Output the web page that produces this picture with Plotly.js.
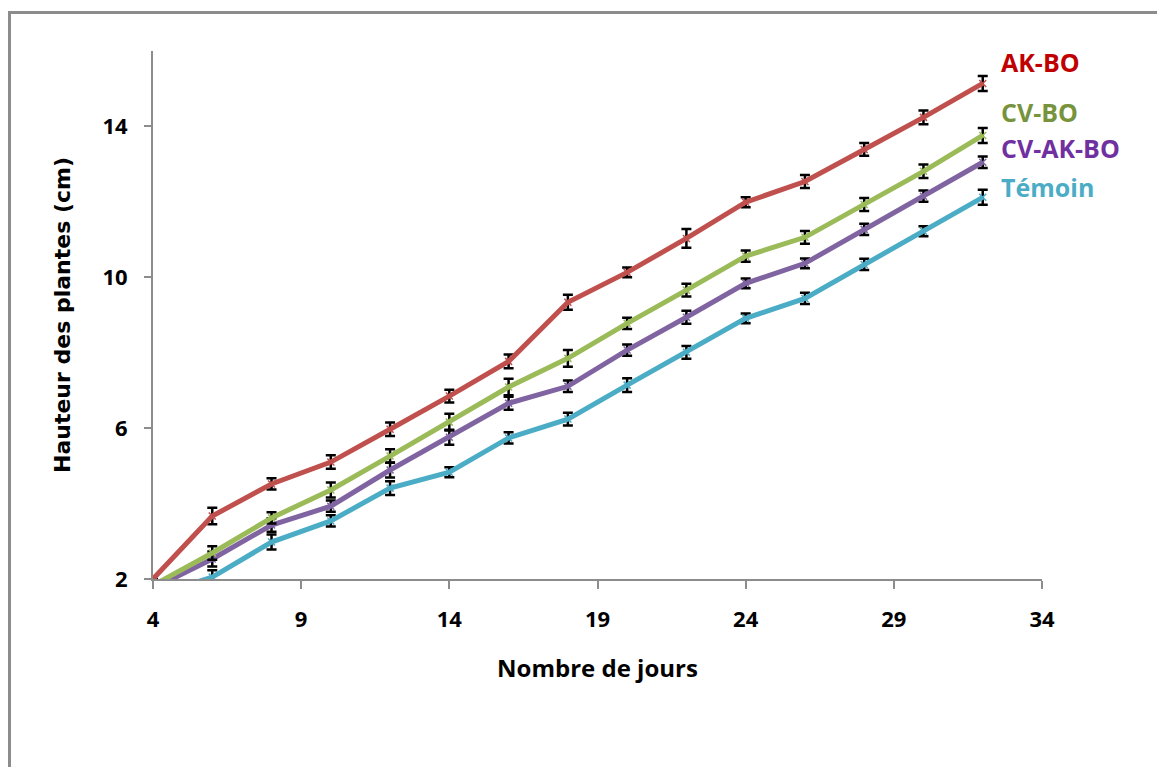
<!DOCTYPE html>
<html>
<head>
<meta charset="utf-8">
<script src="https://cdn.plot.ly/plotly-3.0.1.min.js"></script>
<style>
  html, body { margin: 0; padding: 0; background: #fff; }
  #chart { width: 1157px; height: 767px; }
  #frame { position: absolute; left: 8px; top: 11px; width: 1200px; height: 800px;
           border-left: 3px solid #8c8c8c; border-top: 3px solid #8c8c8c; pointer-events: none; }
</style>
</head>
<body>
<div id="chart"></div>
<div id="frame"></div>
<script>
const days = [4, 6, 8, 10, 12, 14, 16, 18, 20, 22, 24, 26, 28, 30, 32];

const akBO    = [2.00, 3.67, 4.52, 5.10, 5.97, 6.85, 7.77, 9.34, 10.13, 11.03, 11.99, 12.54, 13.39, 14.24, 15.14];
const cvBO    = [1.83, 2.69, 3.62, 4.36, 5.26, 6.16, 7.09, 7.85, 8.78, 9.66, 10.56, 11.06, 11.93, 12.81, 13.76];
const cvAkBO  = [1.75, 2.53, 3.43, 3.93, 4.89, 5.76, 6.66, 7.11, 8.07, 8.94, 9.84, 10.37, 11.27, 12.15, 13.05];
const temoin  = [1.55, 2.05, 2.98, 3.54, 4.41, 4.83, 5.74, 6.24, 7.14, 8.01, 8.91, 9.44, 10.34, 11.22, 12.12];

const errAkBO   = [0, 0.22, 0.15, 0.18, 0.18, 0.17, 0.18, 0.20, 0.13, 0.25, 0.13, 0.17, 0.17, 0.18, 0.20];
const errCvBO   = [0, 0.18, 0.15, 0.20, 0.18, 0.22, 0.22, 0.22, 0.15, 0.17, 0.15, 0.17, 0.17, 0.18, 0.20];
const errCvAkBO = [0, 0.20, 0.18, 0.15, 0.20, 0.20, 0.17, 0.15, 0.15, 0.17, 0.13, 0.13, 0.15, 0.15, 0.15];
const errTemoin = [0, 0.18, 0.20, 0.15, 0.18, 0.13, 0.15, 0.17, 0.18, 0.17, 0.13, 0.15, 0.15, 0.13, 0.20];

const seriesNames  = ['AK-BO', 'CV-BO', 'CV-AK-BO', 'Témoin'];
const lineColors   = ['#C0504D', '#9BBB59', '#8064A2', '#4BACC6'];
const labelColors  = ['#C00000', '#77933C', '#7030A0', '#4BACC6'];
const labelY       = [0.979, 0.884, 0.816, 0.742];

const values = [akBO, cvBO, cvAkBO, temoin];
const errors = [errAkBO, errCvBO, errCvAkBO, errTemoin];

const FONT = 'Open Sans, sans-serif';

const traces = [];
for (let i = values.length - 1; i >= 0; i--) {
  traces.push({
    x: days,
    y: values[i],
    name: seriesNames[i],
    type: 'scatter',
    mode: 'lines+markers',
    line: { color: lineColors[i], width: 5 },
    marker: { symbol: 'x-thin-open', size: 7, color: lineColors[i], line: { width: 1.5, color: lineColors[i] } },
    error_y: { type: 'data', array: errors[i], visible: true, color: '#000', thickness: 2.5, width: 5 },
    cliponaxis: true,
    showlegend: false
  });
}

const annotations = seriesNames.map((n, i) => ({
  text: '<b>' + n + '</b>',
  xref: 'paper', yref: 'paper',
  x: 0.9516, y: labelY[i],
  xanchor: 'left', yanchor: 'middle',
  showarrow: false,
  font: { family: FONT, size: 25, color: labelColors[i] }
}));

const layout = {
  width: 1157, height: 767,
  margin: { l: 153, r: 115, t: 51, b: 188 },
  paper_bgcolor: '#fff',
  plot_bgcolor: '#fff',
  showlegend: false,
  xaxis: {
    range: [4, 34],
    tickmode: 'linear', tick0: 4, dtick: 5,
    showgrid: false, zeroline: false,
    showline: true, linecolor: '#8c8c8c', linewidth: 2,
    ticks: 'outside', ticklen: 8, tickwidth: 2, tickcolor: '#8c8c8c',
    ticklabelstandoff: 12,
    tickfont: { family: FONT, size: 22, color: '#000', weight: 'bold' },
    title: { text: '<b>Nombre de jours</b>', font: { family: FONT, size: 24, color: '#000' }, standoff: 28 }
  },
  yaxis: {
    range: [2, 16],
    tickmode: 'array', tickvals: [2, 6, 10, 14],
    showgrid: false, zeroline: false,
    showline: true, linecolor: '#8c8c8c', linewidth: 2,
    ticks: 'outside', ticklen: 7, tickwidth: 2, tickcolor: '#8c8c8c',
    ticklabelstandoff: 12,
    tickfont: { family: FONT, size: 22, color: '#000', weight: 'bold' },
    title: { text: '<b>Hauteur des plantes (cm)</b>', font: { family: 'DejaVu Sans, sans-serif', size: 22, color: '#000' }, standoff: 26 }
  },
  annotations: annotations
};

Plotly.newPlot('chart', traces, layout, { displayModeBar: false, staticPlot: true });
</script>
</body>
</html>
